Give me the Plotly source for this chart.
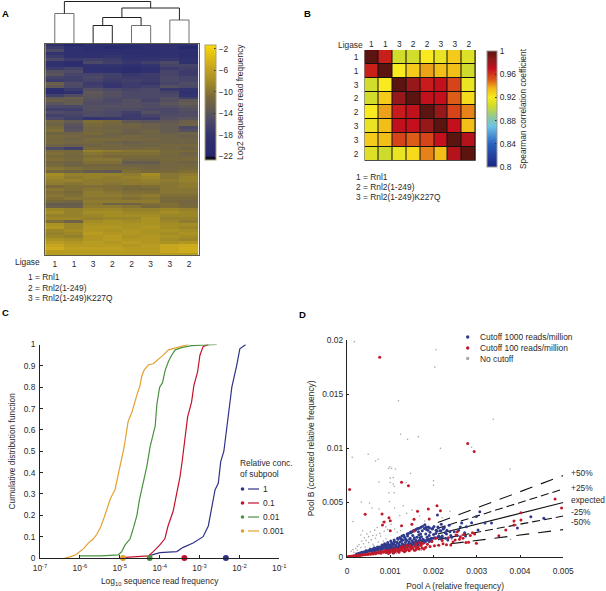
import plotly.graph_objects as go

W, H = 606, 591
FONT = "Liberation Sans, Arial, sans-serif"
INK = "#2a2a2a"
FS = 8.4

# ---------- Panel A data ----------
ligase_labels = ["1", "1", "3", "2", "2", "3", "3", "2"]
# dendrogram merges: (left x, right x, left base, right base, height)
dendro_merges = [
    (0, 1, 0, 0, 30),
    (2, 3, 0, 0, 18),
    (4, 5, 0, 0, 18),
    (2.5, 4.5, 18, 18, 26),
    (6, 7, 0, 0, 23.5),
    (3.5, 6.5, 26, 23.5, 35.5),
    (0.5, 5, 30, 35.5, 42),
]
heat_rows = [
    [-19, -21.6, -19.5, -20, -19.5, -19.5, -19, -19],
    [-17, -19, -19.5, -21, -20.6, -19.5, -19, -21.8],
    [-15.5, -19, -19.5, -19.5, -19.5, -19.5, -19, -19.5],
    [-18, -19, -19, -19, -19.5, -19.5, -19, -19.5],
    [-17, -19, -19, -18, -19, -19, -18.5, -19.5],
    [-15.5, -17, -16.5, -17, -18, -18, -17.5, -18.5],
    [-18.5, -20, -15.5, -16.5, -17.5, -16.5, -15.5, -18.5],
    [-19, -19.5, -18, -18, -19, -18, -16, -16],
    [-17, -16, -19, -19, -20, -19, -17, -16.5],
    [-14.5, -15, -18.5, -19, -20, -19, -16, -17],
    [-14, -16, -16, -16.5, -17.5, -17, -16, -17],
    [-16, -16.5, -15.5, -16.5, -17, -17, -15.5, -16],
    [-17, -16.5, -16, -17, -16.5, -17, -15.5, -16],
    [-12.5, -15, -17, -17.5, -17, -17.5, -16, -15],
    [-13.5, -15.5, -16.5, -18, -17, -16.5, -14.5, -15.5],
    [-19.5, -17, -14.5, -15.5, -16, -15.5, -17.5, -18],
    [-20, -18.5, -13.5, -14.5, -15.5, -15.5, -16, -19],
    [-16.5, -15, -14, -14.5, -15.5, -15.5, -15.5, -18],
    [-13.5, -12.5, -14, -15, -15.5, -15.5, -14.5, -16.5],
    [-12.5, -13, -14.5, -15.5, -14.5, -16, -14.5, -13.5],
    [-14, -13, -15, -15, -14.5, -15, -14, -13],
    [-15.5, -15.5, -14.5, -14.5, -14.5, -15, -14.5, -14],
    [-16.5, -16.5, -14.5, -15, -15, -15.5, -15.5, -14.5],
    [-15, -15.5, -15, -15.5, -16.5, -14.5, -15.5, -15],
    [-16.5, -16, -15, -15.5, -17, -16, -15, -15],
    [-15.5, -16.5, -18, -17.5, -17, -17, -14.5, -14],
    [-11.5, -13, -10.5, -11, -13.5, -14, -13.5, -12.5],
    [-12, -14, -11, -11.5, -12, -12.5, -13, -12],
    [-11, -14.5, -11.5, -12, -12, -12.5, -13, -15.5],
    [-10.5, -14, -11.5, -11.5, -12.5, -12, -13, -14.5],
    [-12, -12, -11, -12, -12.5, -12, -12.5, -12],
    [-11, -11.5, -12, -12, -11.5, -12, -12, -12.5],
    [-11.5, -12, -11, -11, -11.5, -11.5, -12, -12],
    [-11, -11.5, -11.5, -12, -12.5, -12, -12, -12],
    [-12, -12.5, -12, -11.5, -12, -12, -11.5, -11.5],
    [-15, -16.5, -11, -11.5, -11.5, -11, -11.5, -12],
    [-11, -11, -9, -9.5, -10, -10, -11, -11],
    [-10.5, -11, -10, -10.5, -10.5, -10.5, -11, -12],
    [-11, -11.5, -10.5, -11, -11, -11, -11.5, -11.5],
    [-10.5, -11, -10, -10, -11.5, -11.5, -11, -11],
    [-11.5, -12, -10.5, -10.5, -13, -13, -11.5, -12],
    [-11, -12, -11.5, -11.5, -12, -12, -11.5, -11.5],
    [-10, -10.5, -11, -11, -11, -11.5, -11.5, -11],
    [-11.5, -12, -13, -13.5, -10.5, -11, -11, -10.5],
    [-8, -9, -9, -9, -9.5, -8, -10, -9.5],
    [-8.5, -9.5, -9, -9.5, -9, -8.5, -10, -9],
    [-9, -9, -9.5, -9.5, -9.5, -9, -9.5, -9],
    [-9.5, -10, -9.5, -10, -9.5, -9.5, -10, -9.5],
    [-11, -10.5, -10.5, -10.5, -11, -10.5, -10, -9.5],
    [-10, -10.5, -10, -10.5, -11, -11, -10, -10],
    [-10.5, -11, -9.5, -10, -10.5, -10.5, -10, -10],
    [-10, -10.5, -9.5, -9.5, -10, -9.5, -10.5, -10.5],
    [-10.5, -10, -10, -10, -10.5, -10, -11, -11],
    [-11, -11.5, -9.5, -9.5, -9.5, -9.5, -11, -11.5],
    [-13, -13, -10, -12, -12, -10.5, -10.5, -11.5],
    [-12.5, -12.5, -9.5, -9.5, -10, -11, -10.5, -11],
    [-8.5, -9, -8.5, -8.5, -9, -9, -8.5, -9],
    [-8, -9, -8, -8, -8.5, -8.5, -8, -8.5],
    [-9, -9, -8.5, -8, -8, -8, -8.5, -8.5],
    [-8.5, -8.5, -9, -8.5, -8.5, -7.5, -9, -9],
    [-10.5, -12, -8, -7.5, -8, -7.5, -8.5, -9.5],
    [-7.5, -8.5, -7.5, -7.5, -7.5, -7.5, -8, -8],
    [-7, -8.5, -7, -7, -7.5, -7, -8, -8.5],
    [-8.5, -8, -7, -7.5, -7, -7.5, -7.5, -8],
    [-9, -8.5, -6.5, -7, -7, -7.5, -8, -7.5],
    [-8.5, -9, -7, -6.5, -7.5, -7, -7.5, -8],
    [-7.5, -8, -7, -6.5, -7, -7, -8, -8.5],
    [-6.5, -7, -6.5, -7, -6.5, -7, -7.5, -7],
    [-5.5, -6.5, -6.5, -6.5, -7, -6.5, -5.5, -5],
    [-5, -6, -6, -6, -6.5, -6.5, -5.5, -4.8],
    [-6.5, -6.5, -6.5, -6.5, -6.5, -6.5, -5.5, -5],
    [-6.5, -6.5, -6.5, -6.5, -6.5, -6.5, -6.5, -6.5],
]

# ---------- Panel B data ----------
corr_labels = ["1", "1", "3", "2", "2", "3", "3", "2"]
corr_values = [
    [1.000, 0.966, 0.906, 0.906, 0.920, 0.914, 0.930, 0.910],
    [0.966, 1.000, 0.920, 0.930, 0.939, 0.934, 0.934, 0.905],
    [0.906, 0.920, 1.000, 0.982, 0.967, 0.971, 0.956, 0.915],
    [0.906, 0.930, 0.982, 1.000, 0.971, 0.970, 0.950, 0.925],
    [0.920, 0.939, 0.967, 0.971, 1.000, 0.982, 0.956, 0.944],
    [0.914, 0.934, 0.971, 0.970, 0.982, 1.000, 0.970, 0.934],
    [0.930, 0.934, 0.956, 0.950, 0.956, 0.970, 1.000, 0.974],
    [0.910, 0.905, 0.915, 0.925, 0.944, 0.934, 0.974, 1.000],
]

# ---------- Panel C data ----------
cdf_log_orange = [-6.38, -6.25, -6.1, -6.0, -5.9, -5.79, -5.66, -5.58, -5.49, -5.41, -5.33, -5.23, -5.12, -5.06, -4.98, -4.89, -4.84, -4.79, -4.7, -4.63, -4.56, -4.49, -4.45, -4.39, -4.28, -4.16, -4.03, -3.91, -3.78, -3.57, -3.42, -3.28]
cdf_val_orange = [0, 0.005, 0.015, 0.03, 0.045, 0.07, 0.09, 0.11, 0.14, 0.18, 0.23, 0.28, 0.32, 0.37, 0.44, 0.52, 0.58, 0.64, 0.68, 0.73, 0.77, 0.81, 0.85, 0.88, 0.905, 0.91, 0.93, 0.95, 0.975, 0.985, 0.995, 1]
cdf_log_green = [-6.0, -5.47, -5.04, -4.95, -4.87, -4.74, -4.66, -4.57, -4.51, -4.42, -4.32, -4.24, -4.17, -4.11, -4.07, -4.0, -3.93, -3.86, -3.78, -3.7, -3.61, -3.45, -3.2, -2.57]
cdf_val_green = [0.01, 0.01, 0.015, 0.03, 0.06, 0.09, 0.14, 0.2, 0.27, 0.35, 0.43, 0.52, 0.58, 0.62, 0.72, 0.8, 0.82, 0.88, 0.92, 0.95, 0.975, 0.985, 0.995, 1]
cdf_log_red = [-4.95, -4.28, -4.16, -4.0, -3.87, -3.79, -3.66, -3.58, -3.49, -3.43, -3.37, -3.3, -3.2, -3.14, -3.05, -2.99, -2.91, -2.78]
cdf_val_red = [0.002, 0.01, 0.03, 0.06, 0.09, 0.15, 0.22, 0.3, 0.38, 0.46, 0.55, 0.66, 0.73, 0.81, 0.87, 0.95, 0.99, 1]
cdf_log_blue = [-4.28, -3.99, -3.57, -3.41, -3.16, -2.91, -2.78, -2.7, -2.61, -2.53, -2.47, -2.39, -2.32, -2.25, -2.19, -2.07, -1.99, -1.84]
cdf_val_blue = [0.01, 0.025, 0.03, 0.05, 0.07, 0.1, 0.15, 0.23, 0.32, 0.35, 0.45, 0.5, 0.6, 0.7, 0.8, 0.9, 0.98, 1]
subpool_log_medians = [-2.34, -3.38, -4.25, -4.92]
subpool_names = ["1", "0.1", "0.01", "0.001"]
subpool_colors = ["#2f3387", "#c2122a", "#4a9140", "#e3a02e"]
y_ticks_c = [0, 0.1, 0.2, 0.3, 0.4, 0.5, 0.6, 0.7, 0.8, 0.9, 1]
x_ticks_c = [-7, -6, -5, -4, -3, -2, -1]

# ---------- Panel D data (units of 1e-3) ----------
blue_x = [4.25, 4.55, 3.94, 3.07, 2.99, 3.19, 3.34, 2.88, 2.65, 2.09, 3.03, 2.76, 2.72, 2.62, 2.55, 2.48, 2.36, 2.3, 2.25, 2.2, 2.18, 2.15, 2.12, 2.08, 2.05, 2.02, 1.98, 1.95, 1.92, 1.88, 1.85, 1.82, 1.8, 1.76, 1.74, 1.7, 1.68, 1.65, 1.62, 1.6, 1.58, 1.55, 1.52, 1.5, 1.48, 1.45, 1.43, 1.4, 1.38, 1.35, 1.33, 1.3, 1.28, 1.25, 1.23, 1.2, 1.18, 1.15, 1.13, 1.1, 1.08, 1.05, 1.03, 1.0, 0.98, 0.95, 0.93, 0.9, 0.88, 0.85, 0.83, 0.8, 0.78, 0.75, 0.73, 0.7, 0.68, 0.65, 0.62, 0.6, 0.57, 0.55, 0.52, 0.5, 0.47, 0.45, 0.42, 0.4, 0.37, 0.35, 2.22, 2.1, 2.0, 1.9, 1.84, 1.72, 1.66, 1.56, 1.46, 1.36, 1.26, 1.16, 1.06, 0.96, 0.86, 0.76, 0.66, 0.56, 0.46, 1.94, 1.86, 1.78, 1.69, 1.61, 1.53, 1.44, 1.37, 1.29, 1.21, 1.12, 1.02, 0.92, 0.82, 0.72, 0.64, 0.58, 2.4, 2.28, 2.16, 1.96, 1.76, 1.58, 1.41, 1.32, 1.24, 1.14, 1.07, 0.99, 0.89, 0.79, 2.74, 2.58, 2.42, 2.33, 1.07, 1.2, 1.34, 1.5, 1.64,
          0.3, 0.26, 0.22, 0.34, 0.44, 0.54, 0.63, 0.71, 0.81, 0.87, 0.94, 1.01, 1.09, 1.17, 1.22, 1.27, 1.31, 1.39, 1.42, 1.47, 1.51, 1.54, 1.59, 1.63, 1.67, 1.71, 1.75, 1.79, 1.83, 1.87, 1.91, 1.97, 2.01, 2.06, 2.11, 2.17, 2.23, 2.27, 2.31, 2.38, 1.0, 1.08, 1.15, 1.19, 1.25, 1.32, 1.35, 1.41, 1.46, 1.52, 1.57, 1.61, 1.66, 1.73, 1.78, 1.84, 1.89, 1.93, 1.99, 2.04, 2.09, 2.14, 2.2, 0.9, 0.96, 1.04, 1.11, 1.18, 1.24, 1.3, 1.37, 1.43, 1.49, 1.55, 1.6, 1.65, 1.72, 1.77, 1.81, 1.9]
blue_y = [3.69, 3.56, 2.64, 4.15, 3.7, 3.1, 3.1, 3.14, 3.1, 3.85, 2.46, 2.77, 2.2, 2.75, 1.95, 2.3, 2.9, 2.1, 2.7, 1.85, 3.0, 2.4, 1.9, 2.35, 2.15, 1.75, 2.6, 1.7, 2.25, 2.75, 1.8, 2.1, 2.95, 1.6, 2.4, 2.1, 1.55, 2.3, 1.8, 1.5, 2.45, 1.6, 1.95, 1.45, 2.2, 1.6, 1.35, 1.9, 1.5, 1.3, 1.8, 1.55, 1.2, 1.65, 1.35, 1.15, 1.6, 1.3, 1.05, 1.4, 1.2, 1.0, 1.3, 1.1, 0.95, 1.15, 0.9, 1.1, 0.85, 1.05, 0.8, 0.95, 0.75, 0.9, 0.7, 0.82, 0.65, 0.78, 0.6, 0.7, 0.55, 0.62, 0.5, 0.58, 0.45, 0.52, 0.4, 0.46, 0.36, 0.4, 2.55, 2.75, 2.05, 1.95, 2.5, 1.85, 2.0, 1.75, 1.7, 1.6, 1.45, 1.3, 1.15, 1.02, 0.95, 0.82, 0.72, 0.6, 0.5, 1.5, 1.55, 1.35, 1.75, 1.25, 1.3, 1.25, 1.05, 1.1, 1.0, 0.95, 0.85, 0.78, 0.7, 0.6, 0.55, 0.48, 1.95, 1.7, 1.65, 1.45, 1.45, 1.15, 1.05, 0.85, 0.9, 0.8, 0.72, 0.68, 0.6, 0.55, 1.9, 2.45, 1.8, 1.55, 0.35, 0.55, 0.75, 0.95, 1.1,
          0.34, 0.3, 0.24, 0.42, 0.55, 0.68, 0.8, 0.9, 1.08, 1.2, 1.32, 1.45, 1.55, 1.7, 1.78, 1.9, 1.98, 2.1, 2.15, 2.28, 2.32, 2.42, 2.5, 2.6, 2.62, 2.72, 2.8, 2.6, 2.72, 2.45, 2.65, 2.55, 2.78, 2.45, 2.65, 2.38, 2.6, 2.2, 2.45, 2.3, 0.7, 0.78, 0.82, 0.9, 0.95, 1.02, 1.08, 1.12, 1.2, 1.25, 1.3, 1.35, 1.42, 1.48, 1.5, 1.55, 1.62, 1.65, 1.7, 1.72, 1.78, 1.82, 1.9, 0.62, 0.68, 0.72, 0.78, 0.84, 0.88, 0.92, 0.98, 1.02, 1.08, 1.12, 1.18, 1.2, 1.28, 1.32, 1.35, 1.4]
red_x = [0.755, 2.79, 2.94, 0.06, 1.26, 1.42, 0.42, 0.81, 0.97, 1.88, 2.08, 2.16, 1.63, 1.55, 1.5, 1.26, 1.55, 0.82, 0.86, 1.0, 1.0, 1.9, 4.81, 4.96, 4.02, 3.86, 4.02, 3.86, 3.67, 3.51, 2.99, 2.81, 2.4, 2.5, 2.9, 2.85, 2.7, 2.52, 2.55, 2.68, 2.95, 2.62, 2.22, 2.12, 2.02, 1.92, 1.82, 1.74, 1.67, 1.6, 1.55, 1.48, 1.42, 1.36, 1.3, 1.24, 1.18, 1.12, 1.06, 1.0, 0.95, 0.9, 0.84, 0.78, 0.72, 0.66, 0.6, 0.54, 0.48, 0.42, 0.36, 0.3, 0.25, 0.2, 0.16, 0.12, 0.08, 0.05, 0.03, 1.7, 1.64, 1.58, 1.52, 1.46, 1.4, 1.34, 1.28, 1.22, 1.16, 1.1, 1.04, 0.98, 0.92, 0.86, 0.8, 0.74, 0.68, 0.62, 0.56, 0.5, 0.44, 0.38, 0.32, 0.27, 0.22, 0.18, 0.14, 0.1,
         1.86, 1.78, 1.72, 1.63, 1.57, 1.5, 1.44, 1.38, 1.33, 1.27, 1.2, 1.14, 1.08, 1.02, 0.96, 0.88, 2.2, 2.3, 2.34, 2.45, 2.6, 2.75, 1.96, 2.05, 1.3, 1.45, 1.59, 1.68, 1.76, 1.37, 1.24, 1.12]
red_y = [18.4, 10.45, 9.7, 6.2, 6.86, 6.55, 3.91, 3.94, 3.6, 4.4, 4.7, 4.25, 4.2, 3.45, 3.0, 2.86, 2.37, 2.93, 3.2, 3.32, 2.4, 3.48, 5.33, 4.49, 4.06, 3.3, 3.39, 2.93, 2.46, 1.94, 1.24, 1.33, 1.08, 1.54, 2.2, 1.95, 2.05, 2.0, 2.3, 1.7, 2.1, 1.85, 1.2, 1.05, 1.0, 0.95, 0.88, 0.8, 0.72, 0.68, 0.62, 0.7, 0.65, 0.58, 0.55, 0.6, 0.52, 0.48, 0.5, 0.42, 0.45, 0.38, 0.4, 0.32, 0.34, 0.28, 0.26, 0.22, 0.2, 0.18, 0.15, 0.12, 0.1, 0.08, 0.07, 0.05, 0.03, 0.02, 0.01, 1.0, 0.85, 0.95, 0.82, 0.9, 0.78, 0.72, 0.8, 0.66, 0.7, 0.58, 0.62, 0.54, 0.58, 0.48, 0.5, 0.42, 0.38, 0.36, 0.3, 0.27, 0.22, 0.2, 0.16, 0.14, 0.12, 0.09, 0.06, 0.04,
         1.15, 0.72, 1.1, 0.92, 0.6, 0.88, 0.55, 0.85, 0.46, 0.75, 0.4, 0.7, 0.36, 0.62, 0.3, 0.55, 1.5, 1.1, 1.75, 1.35, 1.6, 1.3, 1.4, 1.7, 0.95, 1.05, 1.2, 1.3, 1.25, 1.05, 0.85, 0.7]
grey_x = [0.17, 2.06, 2.03, 1.19, 1.24, 1.4, 1.65, 2.16, 2.88, 0.12, 0.49, 0.72, 0.66, 0.99, 0.96, 1.03, 1.12, 1.47, 1.0, 1.07, 0.74, 1.0, 1.07, 1.09, 1.37, 2.0, 2.0, 0.97, 1.09, 3.77, 3.38, 0.33, 0.52, 0.14, 0.58, 0.74, 0.98, 1.1, 1.22, 1.3, 1.38, 1.5, 1.68, 1.8, 2.2, 2.38, 0.32, 0.36, 0.4, 0.46, 0.5, 0.54, 0.6, 0.64, 0.68, 0.7, 0.76, 0.82, 0.86, 0.9, 0.94, 1.02, 1.1, 1.16, 1.24, 0.34, 0.38, 0.44, 0.5, 0.56, 0.6, 0.66, 0.72, 0.78, 0.84, 0.9, 0.24, 0.28, 0.32, 0.2, 0.24, 0.14, 0.1, 0.16, 0.42, 0.52, 0.62, 1.14, 1.32, 1.72, 2.08, 2.42, 3.02, 3.78]
grey_y = [19.85, 19.1, 17.5, 14.4, 11.3, 10.84, 11.08, 10.0, 10.1, 9.17, 9.45, 8.99, 8.83, 8.3, 8.15, 8.15, 8.1, 7.7, 7.25, 7.3, 6.9, 6.85, 6.7, 6.5, 6.85, 7.0, 6.6, 5.9, 5.9, 8.09, 12.68, 5.05, 4.95, 3.25, 4.5, 4.4, 5.1, 4.5, 3.8, 4.7, 4.0, 4.3, 3.75, 3.3, 3.6, 4.2, 2.0, 2.4, 1.75, 2.1, 1.85, 2.3, 1.95, 2.45, 2.0, 2.7, 2.15, 3.2, 2.35, 2.75, 2.5, 3.0, 2.55, 2.25, 2.4, 1.45, 1.2, 1.5, 1.3, 1.55, 1.15, 1.7, 1.35, 1.9, 1.45, 1.65, 0.95, 1.1, 0.85, 0.75, 0.6, 0.65, 0.5, 0.4, 0.9, 0.8, 1.0, 0.3, 0.55, 0.6, 1.05, 1.6, 1.2, 1.6]
guide_ratios = [1.5, 1.25, 1.0, 0.75, 0.5]
guide_starts = [2.1, 2.1, 2.1, 2.1, 2.4]
guide_dashes = ["13px,9px", "8px,4px", "solid", "8px,4px", "13px,9px"]
guide_labels = ["+50%", "+25%", "expected", "-25%", "-50%"]
guide_label_y = [473, 488, 500, 512, 522]
legend_d = [("Cutoff 1000 reads/million", "#2f3a8c"), ("Cutoff 100 reads/million", "#c01a2a"), ("No cutoff", "#a8a8a8")]
ticks_d_x = [0, 1, 2, 3, 4, 5]
ticks_d_x_text = ["0", "0.001", "0.002", "0.003", "0.004", "0.005"]
ticks_d_y = [0, 5, 10, 15, 20]
ticks_d_y_text = ["0", "0.005", "0.01", "0.015", "0.02"]

# ---------- helpers ----------
def px(x):
    return x / W

def py(y):
    return 1 - y / H

def dom_y(top, bottom):
    return [py(bottom), py(top)]

fig = go.Figure()

# ---------- Panel A ----------
ZMIN_A, ZMAX_A = -22.6, -1.26
def stop_a(v):
    return (v - ZMIN_A) / (ZMAX_A - ZMIN_A)
scale_a = [
    [0, "#0c0c20"], [stop_a(-22.05), "#0c0c20"], [stop_a(-21.9), "#25276f"],
    [stop_a(-18), "#32336f"], [stop_a(-15), "#504c66"], [stop_a(-13), "#645c50"],
    [stop_a(-11), "#78693a"], [stop_a(-8), "#a38d24"], [stop_a(-5), "#cdaa1e"],
    [1, "#fbd905"],
]
fig.add_trace(go.Heatmap(
    z=heat_rows, x=list(range(8)), y=list(range(len(heat_rows))), xaxis="x", yaxis="y",
    zmin=ZMIN_A, zmax=ZMAX_A, colorscale=scale_a,
    colorbar=dict(
        x=px(204.7), xanchor="left", xpad=0, y=py(44.7), yanchor="top", ypad=0,
        len=115.3, lenmode="pixels", thickness=10.6, thicknessmode="pixels",
        outlinecolor="#a8a078", outlinewidth=1, borderwidth=0,
        tickvals=[-2, -6, -10, -14, -18, -22], ticktext=["\u22122", "\u22126", "\u221210", "\u221214", "\u221218", "\u221222"],
        ticks="inside", ticklen=2, tickcolor="#333", tickfont=dict(size=FS, family=FONT, color=INK),
        title=dict(text="Log2 sequence read frequency", side="right", font=dict(size=FS, family=FONT, color=INK)),
    ),
))
for (i, (x0, x1, b0, b1, h)) in enumerate(dendro_merges):
    fig.add_trace(go.Scatter(
        x=[x0, x0, x1, x1], y=[b0, h, h, b1], mode="lines", xaxis="x2", yaxis="y2",
        line=dict(color="#222222" if i in (1, 3, 5, 6) else "#707070", width=1), showlegend=False, hoverinfo="skip",
    ))

# ---------- Panel B ----------
ZMIN_B, ZMAX_B = 0.8, 1.0
def stop_b(v):
    return (v - ZMIN_B) / (ZMAX_B - ZMIN_B)
scale_b = [
    [0, "#1c2580"], [stop_b(0.84), "#2a62c0"], [stop_b(0.87), "#6cc4e6"], [stop_b(0.885), "#8cc8a0"],
    [stop_b(0.905), "#cfdb2c"], [stop_b(0.92), "#f8ea1e"], [stop_b(0.935), "#f2bc18"],
    [stop_b(0.95), "#dc5c18"], [stop_b(0.97), "#c4101c"], [stop_b(0.985), "#8c1a1a"], [1, "#5c1410"],
]
fig.add_trace(go.Heatmap(
    z=corr_values, x=list(range(8)), y=list(range(8)), xaxis="x3", yaxis="y3",
    zmin=ZMIN_B, zmax=ZMAX_B, colorscale=scale_b, xgap=1, ygap=1,
    colorbar=dict(
        x=px(486.7), xanchor="left", xpad=0, y=py(51), yanchor="top", ypad=0,
        len=115.7, lenmode="pixels", thickness=9.5, thicknessmode="pixels",
        outlinecolor="#999999", outlinewidth=1, borderwidth=0,
        tickvals=[0.8, 0.84, 0.88, 0.92, 0.96, 1], ticktext=["0.8", "0.84", "0.88", "0.92", "0.96", "1"],
        ticks="inside", ticklen=2, tickcolor="#333", tickfont=dict(size=FS, family=FONT, color=INK),
        title=dict(text="Spearman correlation coefficient", side="right", font=dict(size=FS, family=FONT, color=INK)),
    ),
))

# ---------- Panel C ----------
curves = [
    (cdf_log_blue, cdf_val_blue, subpool_colors[0]),
    (cdf_log_red, cdf_val_red, subpool_colors[1]),
    (cdf_log_green, cdf_val_green, subpool_colors[2]),
    (cdf_log_orange, cdf_val_orange, subpool_colors[3]),
]
for xs, ys, c in curves:
    fig.add_trace(go.Scatter(
        x=[10 ** v for v in xs], y=ys, mode="lines", xaxis="x4", yaxis="y4",
        line=dict(color=c, width=1.2), showlegend=False, cliponaxis=False,
    ))
fig.add_trace(go.Scatter(
    x=[10 ** v for v in subpool_log_medians], y=[0, 0, 0, 0], mode="markers", xaxis="x4", yaxis="y4",
    marker=dict(color=subpool_colors, size=6), showlegend=False, cliponaxis=False,
))

# ---------- Panel D ----------
for r, x0, d in zip(guide_ratios, guide_starts, guide_dashes):
    fig.add_trace(go.Scatter(
        x=[x0, 5], y=[x0 * r, 5 * r], mode="lines", xaxis="x5", yaxis="y5",
        line=dict(color="#111111", width=1.1, dash=d), showlegend=False, hoverinfo="skip",
    ))
fig.add_trace(go.Scatter(x=grey_x, y=grey_y, mode="markers", xaxis="x5", yaxis="y5", showlegend=False,
                         marker=dict(color="#a8a8a8", size=1.6), cliponaxis=False))
fig.add_trace(go.Scatter(x=blue_x, y=blue_y, mode="markers", xaxis="x5", yaxis="y5", showlegend=False,
                         marker=dict(color="#2f3a8c", size=3), cliponaxis=False))
fig.add_trace(go.Scatter(x=red_x, y=red_y, mode="markers", xaxis="x5", yaxis="y5", showlegend=False,
                         marker=dict(color="#c01a2a", size=3), cliponaxis=False))

# ---------- text ----------
ann = []
def note(x, y, text, size=FS, anchor="left", bold=False, color=INK):
    ann.append(dict(xref="paper", yref="paper", x=px(x), y=py(y), text=f"<b>{text}</b>" if bold else text,
                    showarrow=False, xanchor=anchor, yanchor="middle", borderpad=0,
                    font=dict(size=size, family=FONT, color=color)))

for x, y, t in [(1, 14, "A"), (303, 14, "B"), (1, 312, "C"), (298, 314, "D")]:
    note(x, y, t, size=9.5, bold=True, color="#000")
note(14, 262, "Ligase")
for i, t in enumerate(["1 = Rnl1", "2 = Rnl2(1-249)", "3 = Rnl2(1-249)K227Q"]):
    note(27, 277 + 10.5 * i, t)
    note(355, 176.5 + 10.3 * i, t)
note(337, 44.5, "Ligase")
note(239, 468, "Relative conc.<br>of subpool", anchor="left")
ann[-1]["align"] = "left"
for i, name in enumerate(subpool_names):
    note(262, 489 + 14 * i, name)
for (t, c), yy in zip(legend_d, [337, 348, 358.5]):
    note(479, yy, t)
for t, yy in zip(guide_labels, guide_label_y):
    note(570, yy, t)

# legend keys drawn in the page
shapes = []
shapes.append(dict(type="rect", xref="x3 domain", yref="y3 domain", x0=0, x1=1, y0=0, y1=1,
                   fillcolor="#111111", line=dict(width=0), layer="below"))
for i, c in enumerate(subpool_colors):
    yy = 489 + 14 * i
    shapes.append(dict(type="circle", xref="paper", yref="paper", x0=px(240.7), x1=px(244.3), y0=py(yy + 1.8), y1=py(yy - 1.8),
                       fillcolor=c, line=dict(width=0)))
    shapes.append(dict(type="line", xref="paper", yref="paper", x0=px(248), x1=px(259), y0=py(yy), y1=py(yy),
                       line=dict(color=c, width=1.2)))
for (t, c), yy in zip(legend_d, [337, 348, 358.5]):
    shapes.append(dict(type="circle", xref="paper", yref="paper", x0=px(466), x1=px(469.4), y0=py(yy + 1.7), y1=py(yy - 1.7),
                       fillcolor=c, line=dict(width=0)))

FRAME = "#5c5a48"
fig.update_layout(
    template="none",
    width=W, height=H, margin=dict(l=0, r=0, t=0, b=0, pad=0),
    paper_bgcolor="white", plot_bgcolor="white", showlegend=False,
    font=dict(family=FONT, size=FS, color=INK),
    annotations=ann, shapes=shapes,
    xaxis=dict(automargin=False, domain=[px(45.2), px(198.6)], range=[-0.5, 7.5], anchor="y",
               tickvals=list(range(8)), ticktext=ligase_labels, ticks="", tickfont=dict(size=FS),
               showgrid=False, zeroline=False, showline=True, mirror=True, linecolor=FRAME, linewidth=1, ticklabelstandoff=1),
    yaxis=dict(automargin=False, domain=dom_y(43.5, 255), range=[len(heat_rows) - 0.5, -0.5], anchor="x",
               showticklabels=False, ticks="", showgrid=False, zeroline=False,
               showline=True, mirror=True, linecolor=FRAME, linewidth=1),
    xaxis2=dict(automargin=False, domain=[px(45.2), px(198.6)], range=[-0.5, 7.5], anchor="y2", visible=False),
    yaxis2=dict(automargin=False, domain=dom_y(1, 43.5), range=[0, 42.5], anchor="x2", visible=False),
    xaxis3=dict(automargin=False, domain=[px(364.5), px(475.7)], range=[-0.5, 7.5], anchor="y3", side="top",
                tickvals=list(range(8)), ticktext=corr_labels, ticks="", tickfont=dict(size=FS),
                showgrid=False, zeroline=False, showline=False),
    yaxis3=dict(automargin=False, domain=dom_y(50, 160.7), range=[7.5, -0.5], anchor="x3",
                tickvals=list(range(8)), ticktext=corr_labels, ticks="", tickfont=dict(size=FS),
                showgrid=False, zeroline=False, showline=False, ticklabelstandoff=5),
    xaxis4=dict(automargin=False, domain=[px(40), px(279.3)], type="log", range=[-7, -1], anchor="y4",
                tickvals=[10 ** v for v in x_ticks_c],
                ticktext=[f"10<sup>{v}</sup>" for v in x_ticks_c],
                ticks="inside", ticklen=3, tickcolor="#222", showgrid=False, zeroline=False,
                showline=True, linecolor="#222", linewidth=1, tickfont=dict(size=FS),
                ticklabelstandoff=2,
                title=dict(text="Log<sub>10</sub> sequence read frequency", standoff=6, font=dict(size=FS))),
    yaxis4=dict(automargin=False, domain=dom_y(344.5, 558), range=[0, 1], anchor="x4",
                tickvals=y_ticks_c, ticktext=[f"{v:g}" for v in y_ticks_c],
                ticks="inside", ticklen=3, tickcolor="#222", showgrid=False, zeroline=False,
                showline=True, linecolor="#222", linewidth=1, tickfont=dict(size=FS),
                ticklabelstandoff=2,
                title=dict(text="Cumulative distribution function", standoff=6, font=dict(size=FS))),
    xaxis5=dict(automargin=False, domain=[px(347), px(563.3)], range=[0, 5], anchor="y5",
                tickvals=ticks_d_x, ticktext=ticks_d_x_text, ticks="inside", ticklen=2, tickcolor="#222",
                showgrid=False, zeroline=False, showline=True, linecolor="#222", linewidth=1, tickfont=dict(size=FS),
                ticklabelstandoff=6,
                title=dict(text="Pool A (relative frequency)", standoff=8, font=dict(size=FS))),
    yaxis5=dict(automargin=False, domain=dom_y(340, 556.7), range=[0, 20], anchor="x5",
                tickvals=ticks_d_y, ticktext=ticks_d_y_text, ticks="inside", ticklen=2, tickcolor="#222",
                showgrid=False, zeroline=False, showline=True, linecolor="#222", linewidth=1.3, tickfont=dict(size=FS),
                ticklabelstandoff=1,
                title=dict(text="Pool B (corrected relative frequency)", standoff=6, font=dict(size=FS))),
)

fig.write_html("out.html", config={"displayModeBar": False},
               post_script="document.body.style.margin='0';document.body.style.overflow='hidden';")
